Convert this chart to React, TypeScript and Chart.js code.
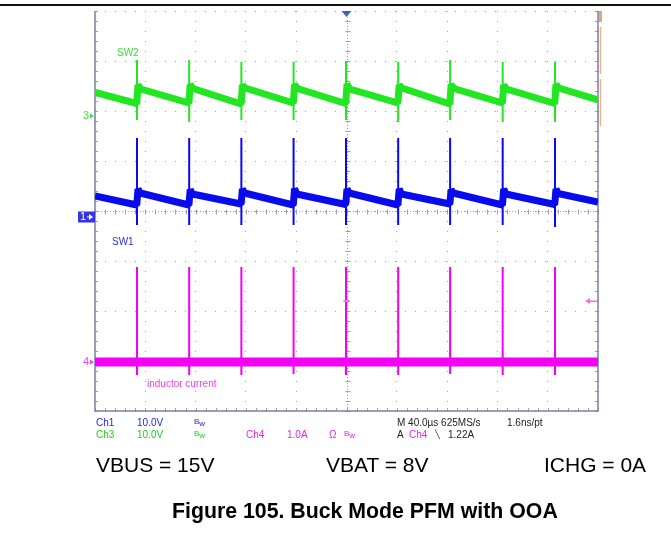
import React, { useEffect, useRef } from "react";
import { Chart, registerables } from "chart.js";

Chart.register(...registerables);

// ---- time base (µs), 40 µs/div, 10 divisions ----
const timeMin = 0;
const timeMax = 400;
const spikeTimes = [33.4, 74.9, 116.4, 157.9, 199.6, 241.1, 282.4, 324.2, 365.8];

// ---- Ch3: SW2 (V) ----
const sw2Start = 4.7;
const sw2Before = [2.5, 2.6, 2.4, 2.6, 2.5, 2.6, 2.4, 2.6, 2.5];
const sw2Ring = [6.2, 6.3, 6.2, 6.3, 6.4, 6.2, 6.3, 6.2, 6.3];
const sw2After = [5.4, 5.5, 5.6, 5.5, 5.4, 5.6, 5.5, 5.4, 5.6];
const sw2End = 3.2;
const sw2SpikeTop = [11.2, 11.2, 10.8, 10.8, 10.8, 10.8, 11.2, 10.8, 10.8];
const sw2SpikeBottom = [-0.8, -1.2, -0.8, -0.8, -0.8, -1.2, -0.8, -1.2, -1.2];

// ---- Ch1: SW1 (V) ----
const sw1Start = 4.2;
const sw1Before = [2.4, 2.4, 2.6, 2.4, 2.5, 2.4, 2.6, 2.4, 2.5];
const sw1Ring = [5.6, 5.5, 5.6, 5.7, 5.6, 5.6, 5.5, 5.6, 5.6];
const sw1After = [4.8, 4.6, 4.8, 4.6, 4.8, 4.6, 4.8, 4.6, 4.7];
const sw1End = 3.0;
const sw1SpikeTop = [15.8, 15.8, 15.8, 15.8, 15.8, 15.8, 15.8, 15.8, 15.8];
const sw1SpikeBottom = [-1.6, -1.6, -1.6, -1.6, -1.6, -1.6, -1.6, -1.6, -2.0];

// ---- Ch4: inductor current (A) ----
const ilBaseline = [0.0, 0.0];
const ilSpikeTop = [1.9, 1.9, 1.9, 1.9, 1.9, 1.9, 1.9, 1.9, 1.9];
const ilSpikeBottom = [-0.26, -0.26, -0.26, -0.24, -0.26, -0.26, -0.24, -0.26, -0.26];
const triggerLevel = 1.22;

// ---- channel settings: ground position (div) and scale per div ----
const ch1Offset = -0.12;
const ch1Scale = 10;
const ch3Offset = 1.9;
const ch3Scale = 10;
const ch4Offset = -3.02;
const ch4Scale = 1;

const GREEN = "#22e622";
const BLUE = "#0a0aee";
const MAGENTA = "#f400f4";

type P = { x: number; y: number | null };

function band(start: number, before: number[], ring: number[], after: number[], end: number,
  off: number, sc: number, ringDt: number, afterDt: number): P[] {
  const pts: P[] = [{ x: timeMin, y: off + start / sc }];
  spikeTimes.forEach((t, i) => {
    pts.push({ x: t - 0.2, y: off + before[i] / sc });
    pts.push({ x: t + ringDt, y: off + ring[i] / sc });
    pts.push({ x: t + afterDt, y: off + after[i] / sc });
  });
  pts.push({ x: timeMax, y: off + end / sc });
  return pts;
}

function spikes(top: number[], bottom: number[], off: number, sc: number): P[] {
  const pts: P[] = [];
  spikeTimes.forEach((t, i) => {
    pts.push({ x: t, y: off + top[i] / sc });
    pts.push({ x: t, y: off + bottom[i] / sc });
    pts.push({ x: t + 0.01, y: null });
  });
  return pts;
}

const scopePlugin = {
  id: "scope",
  beforeDatasetsDraw(chart: any) {
    const { ctx, chartArea: a, scales } = chart;
    const xs = scales.x, ys = scales.y;
    ctx.save();
    const cx = Math.round(xs.getPixelForValue((timeMin + timeMax) / 2)) + 0.5;
    const cy = Math.round(ys.getPixelForValue(0)) + 0.5;
    ctx.strokeStyle = "#9aa0b6";
    ctx.lineWidth = 1;
    // center cross dotted
    ctx.setLineDash([1, 2]);
    ctx.beginPath();
    ctx.moveTo(a.left, cy); ctx.lineTo(a.right, cy);
    ctx.moveTo(cx, a.top); ctx.lineTo(cx, a.bottom);
    ctx.stroke();
    ctx.setLineDash([]);
    // ticks on center cross and borders
    ctx.beginPath();
    for (let v = timeMin; v <= timeMax; v += 8) {
      const px = Math.round(xs.getPixelForValue(v)) + 0.5;
      ctx.moveTo(px, cy - 2); ctx.lineTo(px, cy + 3);
      ctx.moveTo(px, a.bottom - 3); ctx.lineTo(px, a.bottom);
    }
    for (let d = -4; d <= 4.001; d += 0.2) {
      const py = Math.round(ys.getPixelForValue(d)) + 0.5;
      ctx.moveTo(cx - 2, py); ctx.lineTo(cx + 3, py);
      ctx.moveTo(a.left, py); ctx.lineTo(a.left + 3, py);
      ctx.moveTo(a.right - 3, py); ctx.lineTo(a.right, py);
    }
    ctx.stroke();
    // frame
    ctx.strokeStyle = "#7a82a0";
    ctx.lineWidth = 1.5;
    ctx.beginPath();
    ctx.moveTo(a.left, a.top); ctx.lineTo(a.left, a.bottom);
    ctx.lineTo(a.right, a.bottom); ctx.lineTo(a.right, a.top);
    ctx.stroke();
    ctx.restore();
  },
  afterDatasetsDraw(chart: any) {
    const { ctx, chartArea: a, scales } = chart;
    const xs = scales.x, ys = scales.y;
    ctx.save();
    const cx = xs.getPixelForValue((timeMin + timeMax) / 2);
    // trigger position triangle
    ctx.fillStyle = "#1e6ef5";
    ctx.beginPath();
    ctx.moveTo(cx - 5, a.top); ctx.lineTo(cx + 5, a.top); ctx.lineTo(cx, a.top + 6);
    ctx.closePath(); ctx.fill();
    ctx.fillStyle = "#e02020";
    ctx.fillRect(cx - 1, a.top, 2, 2);

    // channel ground markers
    ctx.font = "11px Arial, 'Liberation Sans', sans-serif";
    ctx.textBaseline = "middle";
    const g3 = ys.getPixelForValue(ch3Offset);
    ctx.fillStyle = "#44e044";
    ctx.fillText("3", a.left - 12, g3);
    ctx.beginPath(); ctx.moveTo(a.left - 5, g3 - 2.5); ctx.lineTo(a.left - 1, g3); ctx.lineTo(a.left - 5, g3 + 2.5); ctx.fill();
    const g4 = ys.getPixelForValue(ch4Offset);
    ctx.fillStyle = "#f040f0";
    ctx.fillText("4", a.left - 12, g4);
    ctx.beginPath(); ctx.moveTo(a.left - 5, g4 - 2.5); ctx.lineTo(a.left - 1, g4); ctx.lineTo(a.left - 5, g4 + 2.5); ctx.fill();
    const g1 = ys.getPixelForValue(ch1Offset);
    ctx.fillStyle = "#3434e4";
    ctx.fillRect(a.left - 17, g1 - 5.5, 17, 11);
    ctx.fillStyle = "#ffffff";
    ctx.fillText("1", a.left - 15, g1);
    ctx.beginPath(); ctx.moveTo(a.left - 6, g1 - 3); ctx.lineTo(a.left - 2, g1); ctx.lineTo(a.left - 6, g1 + 3); ctx.fill();
    ctx.fillRect(a.left - 8, g1 - 0.5, 3, 1);

    // trigger level marker (ch4)
    const ty = ys.getPixelForValue(ch4Offset + triggerLevel / ch4Scale);
    ctx.fillStyle = "#f070f0";
    ctx.beginPath(); ctx.moveTo(a.right - 13, ty); ctx.lineTo(a.right - 8, ty - 3); ctx.lineTo(a.right - 8, ty + 3); ctx.fill();
    ctx.fillRect(a.right - 9, ty - 0.5, 8, 1.5);
    ctx.fillRect(cx - 3, ty - 1, 6, 2);

    // record-length bar on the right
    ctx.fillStyle = "#e0a676";
    ctx.fillRect(a.right + 1, a.top, 3, 11);
    ctx.strokeStyle = "#e9b48e";
    ctx.lineWidth = 1.5;
    ctx.beginPath();
    ctx.moveTo(a.right + 2.5, a.top + 16); ctx.lineTo(a.right + 2.5, a.top + 63);
    ctx.moveTo(a.right + 2.5, a.top + 68); ctx.lineTo(a.right + 2.5, a.top + 115);
    ctx.stroke();
    ctx.restore();
  },
};

const small: React.CSSProperties = { position: "absolute", fontSize: 10, lineHeight: "10px", whiteSpace: "nowrap" };

function Bw({ color, left, top }: { color: string; left: number; top: number }) {
  return (
    <div style={{ ...small, left, top: top - 2, color }}>
      <span style={{ fontSize: 8 }}>B</span><span style={{ fontSize: 8, position: "relative", top: 2 }}>w</span>
    </div>
  );
}

export default function App() {
  const ref = useRef<HTMLCanvasElement>(null);
  useEffect(() => {
    if (!ref.current) return;
    const chart = new Chart(ref.current, {
      type: "line",
      data: {
        datasets: [
          { data: band(sw2Start, sw2Before, sw2Ring, sw2After, sw2End, ch3Offset, ch3Scale, 0.8, 3.0) as any, borderColor: GREEN, borderWidth: 7, borderJoinStyle: "bevel" },
          { data: spikes(sw2SpikeTop, sw2SpikeBottom, ch3Offset, ch3Scale) as any, borderColor: GREEN, borderWidth: 2 },
          { data: band(sw1Start, sw1Before, sw1Ring, sw1After, sw1End, ch1Offset, ch1Scale, 0.8, 2.5) as any, borderColor: BLUE, borderWidth: 7, borderJoinStyle: "bevel" },
          { data: spikes(sw1SpikeTop, sw1SpikeBottom, ch1Offset, ch1Scale) as any, borderColor: BLUE, borderWidth: 2 },
          { data: [{ x: timeMin, y: ch4Offset + ilBaseline[0] / ch4Scale }, { x: timeMax, y: ch4Offset + ilBaseline[1] / ch4Scale }], borderColor: MAGENTA, borderWidth: 9 },
          { data: spikes(ilSpikeTop, ilSpikeBottom, ch4Offset, ch4Scale) as any, borderColor: MAGENTA, borderWidth: 2 },
        ],
      },
      options: {
        responsive: false,
        animation: false,
        devicePixelRatio: 1,
        layout: { padding: { left: 95, top: 11, right: 73, bottom: 135 } },
        elements: { point: { radius: 0 }, line: { tension: 0, borderCapStyle: "butt" } },
        plugins: { legend: { display: false }, tooltip: { enabled: false } },
        scales: {
          x: {
            type: "linear", min: timeMin, max: timeMax,
            ticks: { display: false, stepSize: 40 },
            grid: { color: "#9aa0b6", lineWidth: 1, drawTicks: false },
            border: { display: false, dash: [1, 9] },
          },
          y: {
            type: "linear", min: -4, max: 4,
            ticks: { display: false, stepSize: 1 },
            grid: { color: "#9aa0b6", lineWidth: 1, drawTicks: false },
            border: { display: false, dash: [1, 9] },
          },
        },
      },
      plugins: [scopePlugin],
    });
    return () => chart.destroy();
  }, []);

  const blue = "#2424e2", green = "#24cc24", mag = "#e826e8", black = "#222";
  return (
    <div style={{ position: "absolute", left: 0, top: 0, width: 671, height: 546, background: "#fff", fontFamily: "Arial, 'Liberation Sans', sans-serif", overflow: "hidden" }}>
      <div style={{ position: "absolute", left: 0, top: 4, width: 671, height: 2, background: "#111" }} />
      <canvas ref={ref} width={671} height={546} style={{ position: "absolute", left: 0, top: 0 }} />
      <div style={{ ...small, left: 117, top: 48, color: "#38e038" }}>SW2</div>
      <div style={{ ...small, left: 112, top: 237, color: "#2a2ae8" }}>SW1</div>
      <div style={{ ...small, left: 147, top: 379, color: "#f040f0" }}>inductor current</div>

      <div style={{ ...small, left: 96, top: 418, color: blue }}>Ch1</div>
      <div style={{ ...small, left: 137, top: 418, color: blue }}>10.0V</div>
      <Bw color={blue} left={194} top={418} />
      <div style={{ ...small, left: 96, top: 430, color: green }}>Ch3</div>
      <div style={{ ...small, left: 137, top: 430, color: green }}>10.0V</div>
      <Bw color={green} left={194} top={430} />
      <div style={{ ...small, left: 246, top: 430, color: mag }}>Ch4</div>
      <div style={{ ...small, left: 287, top: 430, color: mag }}>1.0A</div>
      <div style={{ ...small, left: 329, top: 430, color: mag }}>Ω</div>
      <Bw color={mag} left={344} top={430} />
      <div style={{ ...small, left: 397, top: 418, color: black }}>M 40.0µs 625MS/s</div>
      <div style={{ ...small, left: 507, top: 418, color: black }}>1.6ns/pt</div>
      <div style={{ ...small, left: 397, top: 430, color: black }}>A</div>
      <div style={{ ...small, left: 409, top: 430, color: mag }}>Ch4</div>
      <div style={{ ...small, left: 435, top: 430, color: black, fontSize: 8 }}>╲</div>
      <div style={{ ...small, left: 448, top: 430, color: black }}>1.22A</div>

      <div style={{ position: "absolute", left: 96, top: 454, fontSize: 21, lineHeight: "21px", color: "#000" }}>VBUS = 15V</div>
      <div style={{ position: "absolute", left: 326, top: 454, fontSize: 21, lineHeight: "21px", color: "#000" }}>VBAT = 8V</div>
      <div style={{ position: "absolute", left: 544, top: 454, fontSize: 21, lineHeight: "21px", color: "#000", whiteSpace: "nowrap" }}>ICHG = 0A</div>
      <div style={{ position: "absolute", left: 172, top: 501, fontSize: 21.3, lineHeight: "21px", fontWeight: "bold", color: "#000", whiteSpace: "nowrap" }}>Figure 105. Buck Mode PFM with OOA</div>
    </div>
  );
}
